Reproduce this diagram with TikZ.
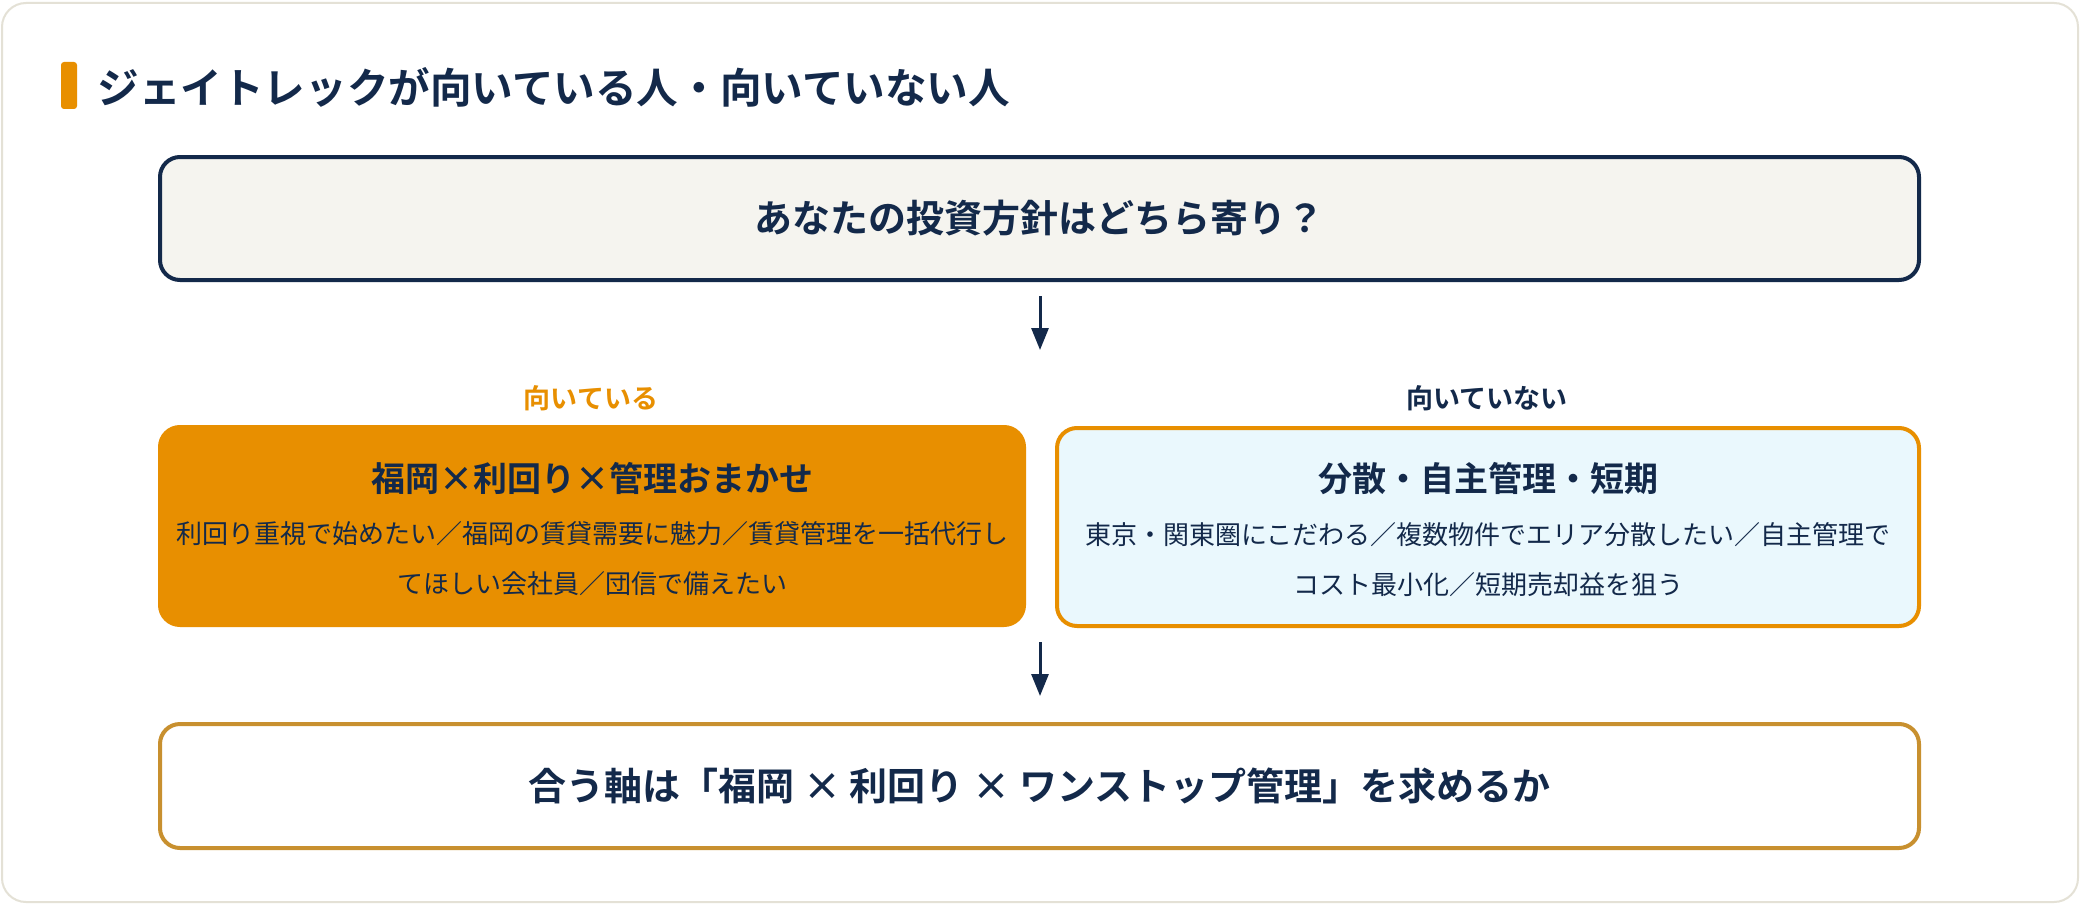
\documentclass[tikz,border=0pt]{standalone}
\usepackage{fontspec}
\setmainfont{Noto Sans CJK JP}[BoldFont={* Bold}]
\usetikzlibrary{arrows.meta}
\definecolor{navy}{HTML}{13294A}
\definecolor{orng}{HTML}{E88F00}
\definecolor{cyanbg}{HTML}{EAF8FD}
\definecolor{topbg}{HTML}{F5F4EF}
\definecolor{gold}{HTML}{C8902F}
\definecolor{cardline}{HTML}{E4E1D6}
\tikzset{
  every node/.style={text=navy, inner sep=0pt},
  boxbase/.style={rectangle, rounded corners=10pt, line width=2pt},
  topbox/.style={boxbase, draw=navy, fill=topbg},
  goodbox/.style={boxbase, fill=orng, draw=orng},
  badbox/.style={boxbase, draw=orng, fill=cyanbg},
  endbox/.style={boxbase, draw=gold, fill=white},
  bigtxt/.style={font=\fontsize{19}{22}\selectfont\bfseries},
  headtxt/.style={font=\fontsize{17}{20}\selectfont\bfseries},
  bodytxt/.style={font=\fontsize{13}{25}\selectfont, align=center},
  labtxt/.style={font=\fontsize{13.5}{16}\selectfont\bfseries},
  arr/.style={draw=navy, line width=1.5pt, -{Triangle[length=11pt,width=8.5pt]}}
}
\begin{document}
\begin{tikzpicture}[x=0.5pt,y=-0.5pt]
\useasboundingbox (0,0) rectangle (2080,904);
\fill[white] (0,0) rectangle (2080,904);
\draw[cardline, line width=1pt, rounded corners=12pt, fill=white] (2,3) rectangle (2078,902);
% title
\fill[orng, rounded corners=1.5pt] (61,62) rectangle (77,109);
\node[anchor=west, font=\fontsize{20.8}{26}\selectfont\bfseries] (title) at (97,87) {ジェイトレックが向いている人・向いていない人};
% top question
\node[topbox, minimum width=879.5pt, minimum height=61.5pt] (q) at (1039.5,218.5) {};
\node[bigtxt] (qt) at (q.center) {あなたの投資方針はどちら寄り？};
% labels
\node[labtxt, text=orng] (lg) at (591,398) {向いている};
\node[labtxt] (lb) at (1487,398) {向いていない};
% left box
\node[goodbox, minimum width=432pt, minimum height=99pt] (g) at (592,526) {};
\node[headtxt] (gt) at (592,478) {福岡×利回り×管理おまかせ};
\node[bodytxt] (gb) at (592,559) {利回り重視で始めたい／福岡の賃貸需要に魅力／賃貸管理を一括代行し\\てほしい会社員／団信で備えたい};
% right box
\node[badbox, minimum width=431pt, minimum height=99pt] (b) at (1488,527) {};
\node[headtxt] (bt) at (1488,479) {分散・自主管理・短期};
\node[bodytxt] (bb) at (1488,560) {東京・関東圏にこだわる／複数物件でエリア分散したい／自主管理で\\コスト最小化／短期売却益を狙う};
% bottom box
\node[endbox, minimum width=879.5pt, minimum height=62pt] (e) at (1039.5,786) {};
\node[bigtxt] (et) at (e.center) {合う軸は「福岡 × 利回り × ワンストップ管理」を求めるか};
% arrows
\coordinate (a1e) at (1040,350);
\coordinate (a2s) at (1040,642);
\draw[arr] ([yshift=-7pt]q.south -| a1e) -- (a1e);
\draw[arr] (a2s) -- ([yshift=13pt]e.north -| a2s);
\end{tikzpicture}
\end{document}
